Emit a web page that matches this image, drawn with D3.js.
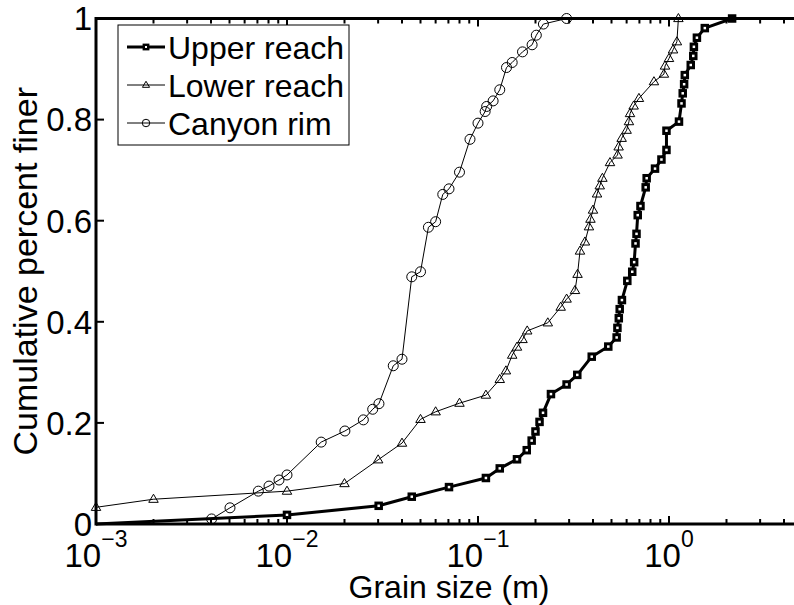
<!DOCTYPE html>
<html>
<head>
<meta charset="utf-8">
<script src="https://cdn.jsdelivr.net/npm/d3@7"></script>
<style>
  body { margin: 0; background: #fff; }
  text { font-family: "Liberation Sans", Arial, Helvetica, sans-serif; fill: #000; }
</style>
</head>
<body>
<svg id="chart" width="794" height="605"></svg>
<script>
// ------------------ DATA ------------------

// Upper reach (grain size in m, cumulative fraction finer)
const upperX = [0.001, 0.01, 0.0302, 0.045, 0.0705, 0.110, 0.130, 0.160, 0.180, 0.191, 0.200, 0.210, 0.219,
  0.241, 0.291, 0.331, 0.394, 0.481, 0.532, 0.537, 0.546, 0.552, 0.567, 0.605, 0.642, 0.657,
  0.668, 0.676, 0.686, 0.709, 0.755, 0.764, 0.845, 0.913, 0.970, 0.970, 1.128, 1.163, 1.18,
  1.20, 1.21, 1.30, 1.34, 1.35, 1.40, 1.54, 2.14];
const upperY = [0, 0.018, 0.036, 0.054, 0.073, 0.091, 0.110, 0.128, 0.146, 0.165, 0.183, 0.202, 0.220,
  0.257, 0.276, 0.295, 0.331, 0.351, 0.369, 0.388, 0.407, 0.425, 0.443, 0.481, 0.499, 0.518,
  0.555, 0.574, 0.611, 0.629, 0.666, 0.684, 0.703, 0.721, 0.740, 0.778, 0.796, 0.832, 0.852,
  0.870, 0.888, 0.908, 0.926, 0.944, 0.962, 0.981, 1.0];

// Lower reach
const lowerX = [0.001, 0.002, 0.01, 0.020, 0.030, 0.040, 0.050, 0.060, 0.080, 0.110, 0.130, 0.140,
  0.151, 0.160, 0.171, 0.181, 0.232, 0.271, 0.291, 0.322, 0.332, 0.342, 0.363, 0.381, 0.388,
  0.400, 0.420, 0.434, 0.448, 0.491, 0.538, 0.545, 0.565, 0.600, 0.617, 0.625, 0.653, 0.696,
  0.834, 0.941, 0.953, 1.0, 1.05, 1.10, 1.12];
const lowerY = [0.033, 0.049, 0.065, 0.080, 0.127, 0.160, 0.207, 0.222, 0.239, 0.255, 0.286, 0.303,
  0.334, 0.350, 0.365, 0.382, 0.398, 0.429, 0.445, 0.462, 0.494, 0.540, 0.558, 0.588, 0.603,
  0.621, 0.653, 0.669, 0.684, 0.715, 0.730, 0.746, 0.763, 0.779, 0.796, 0.812, 0.827, 0.842,
  0.875, 0.890, 0.906, 0.921, 0.938, 0.954, 1.0];

// Canyon rim
const canyonX = [0.00403, 0.00503, 0.00708, 0.00805, 0.00908, 0.01, 0.0151, 0.0201, 0.0251, 0.0281,
  0.0303, 0.036, 0.040, 0.045, 0.050, 0.055, 0.060, 0.0654, 0.0705, 0.080, 0.0908, 0.100,
  0.109, 0.111, 0.120, 0.130, 0.141, 0.151, 0.171, 0.192, 0.202, 0.220, 0.291];
const canyonY = [0.010, 0.032, 0.065, 0.075, 0.087, 0.097, 0.162, 0.184, 0.206, 0.227,
  0.238, 0.313, 0.326, 0.489, 0.499, 0.587, 0.598, 0.652, 0.663, 0.696, 0.761, 0.793,
  0.816, 0.826, 0.837, 0.859, 0.903, 0.913, 0.934, 0.948, 0.967, 0.989, 1.0];

const seriesNames = ["Upper reach", "Lower reach", "Canyon rim"];
const xMajorTicks = [1e-3, 1e-2, 1e-1, 1e0];
const xTickExp = ["\u22123", "\u22122", "\u22121", "0"];
const yTicks = [0, 0.2, 0.4, 0.6, 0.8, 1];

// ------------------ LAYOUT ------------------

const svg = d3.select("#chart");
const plotLeft = 96, plotTop = 18.5, plotBottom = 524, plotRight = 802.5;
const fontSize = 32;

const x = d3.scaleLog().domain([1e-3, 5]).range([plotLeft, plotRight]);
const y = d3.scaleLinear().domain([0, 1]).range([plotBottom, plotTop]);

function zipSeries(xs, ys) {
  return xs.map((v, i) => ({ x: v, y: ys[i] }));
}

const series = [
  { name: seriesNames[0], data: zipSeries(upperX, upperY), width: 3, marker: "square", skipFirst: true },
  { name: seriesNames[1], data: zipSeries(lowerX, lowerY), width: 1, marker: "triangle" },
  { name: seriesNames[2], data: zipSeries(canyonX, canyonY), width: 1, marker: "circle" }
];

const line = d3.line().x(d => x(d.x)).y(d => y(d.y));

// ------------------ MARKERS ------------------

function drawMarker(g, type, cx, cy, scale) {
  if (type == "square") {
    const s = 5.5 * scale;
    g.append("rect")
      .attr("x", cx - s / 2).attr("y", cy - s / 2)
      .attr("width", s).attr("height", s)
      .attr("fill", "#fff").attr("stroke", "#000").attr("stroke-width", 3 * scale);
  } else if (type == "triangle") {
    const s = 5 * scale;
    g.append("path")
      .attr("d", `M${cx},${cy - s} L${cx + s * 0.95},${cy + s * 0.62} L${cx - s * 0.95},${cy + s * 0.62} Z`)
      .attr("fill", "none").attr("stroke", "#000").attr("stroke-width", 1);
  } else {
    g.append("circle")
      .attr("cx", cx).attr("cy", cy).attr("r", 5 * scale)
      .attr("fill", "none").attr("stroke", "#000").attr("stroke-width", 1);
  }
}

// ------------------ SERIES ------------------

const plot = svg.append("g").attr("class", "series");

series.forEach(s => {
  plot.append("path")
    .datum(s.data)
    .attr("d", line)
    .attr("fill", "none")
    .attr("stroke", "#000")
    .attr("stroke-width", s.width)
    .attr("stroke-linejoin", "round");

  const mg = plot.append("g");
  s.data.forEach((d, i) => {
    if (s.skipFirst && i == 0) return;
    drawMarker(mg, s.marker, x(d.x), y(d.y), 1);
  });
});

// ------------------ AXES ------------------

const axes = svg.append("g").attr("class", "axes");

// minor + major x ticks (bottom pointing up, top pointing down)
const xAllTicks = [];
for (let e = -3; e <= 0; e++) {
  for (let m = 1; m <= 9; m++) {
    const v = m * Math.pow(10, e);
    if (v <= 5) xAllTicks.push({ v: v, major: m == 1 });
  }
}

xAllTicks.forEach(t => {
  const px = x(t.v);
  const len = t.major ? 8 : 5;
  axes.append("line").attr("x1", px).attr("x2", px).attr("y1", plotBottom).attr("y2", plotBottom - len)
    .attr("stroke", "#000").attr("stroke-width", 2);
  axes.append("line").attr("x1", px).attr("x2", px).attr("y1", plotTop).attr("y2", plotTop + len)
    .attr("stroke", "#000").attr("stroke-width", 2);
});

yTicks.forEach(t => {
  axes.append("line").attr("x1", plotLeft).attr("x2", plotLeft + 8).attr("y1", y(t)).attr("y2", y(t))
    .attr("stroke", "#000").attr("stroke-width", 2);
});

// box lines
axes.append("line").attr("x1", plotLeft).attr("x2", plotRight).attr("y1", plotBottom).attr("y2", plotBottom)
  .attr("stroke", "#000").attr("stroke-width", 3);
axes.append("line").attr("x1", plotLeft).attr("x2", plotRight).attr("y1", plotTop).attr("y2", plotTop)
  .attr("stroke", "#000").attr("stroke-width", 3);
axes.append("line").attr("x1", plotLeft).attr("x2", plotLeft).attr("y1", plotTop - 1.5).attr("y2", plotBottom + 1.5)
  .attr("stroke", "#000").attr("stroke-width", 3);

// y tick labels
axes.selectAll(".ylab")
  .data(yTicks)
  .enter().append("text")
  .attr("class", "ylab")
  .attr("x", 92)
  .attr("y", d => y(d))
  .attr("dy", "0.36em")
  .attr("text-anchor", "end")
  .attr("font-size", 33)
  .text(d => d3.format("")(d));

// x tick labels: 10 with superscript exponent
xMajorTicks.forEach((v, i) => {
  const t = axes.append("text")
    .attr("x", x(v))
    .attr("y", 567)
    .attr("text-anchor", "middle")
    .attr("font-size", 33);
  t.append("tspan").text("10");
  t.append("tspan").attr("font-size", 23).attr("dy", -20).text(xTickExp[i]);
});

// axis titles
svg.append("text")
  .attr("x", 449)
  .attr("y", 598)
  .attr("text-anchor", "middle")
  .attr("font-size", fontSize)
  .text("Grain size (m)");

svg.append("text")
  .attr("transform", `translate(37,${(plotTop + plotBottom) / 2}) rotate(-90)`)
  .attr("text-anchor", "middle")
  .attr("font-size", 34)
  .text("Cumulative percent finer");

// ------------------ LEGEND ------------------

const legend = svg.append("g").attr("class", "legend");
legend.append("rect")
  .attr("x", 118).attr("y", 25).attr("width", 231).attr("height", 120)
  .attr("fill", "#fff").attr("stroke", "#000").attr("stroke-width", 1);

series.forEach((s, i) => {
  const cy = 47 + i * 38;
  legend.append("line")
    .attr("x1", 127).attr("x2", 165).attr("y1", cy).attr("y2", cy)
    .attr("stroke", "#000").attr("stroke-width", s.width);
  drawMarker(legend, s.marker, 146, cy, s.marker == "square" ? 0.8 : 0.75);
  legend.append("text")
    .attr("x", 168)
    .attr("y", cy)
    .attr("dy", "0.36em")
    .attr("font-size", fontSize)
    .text(s.name);
});
</script>
</body>
</html>
